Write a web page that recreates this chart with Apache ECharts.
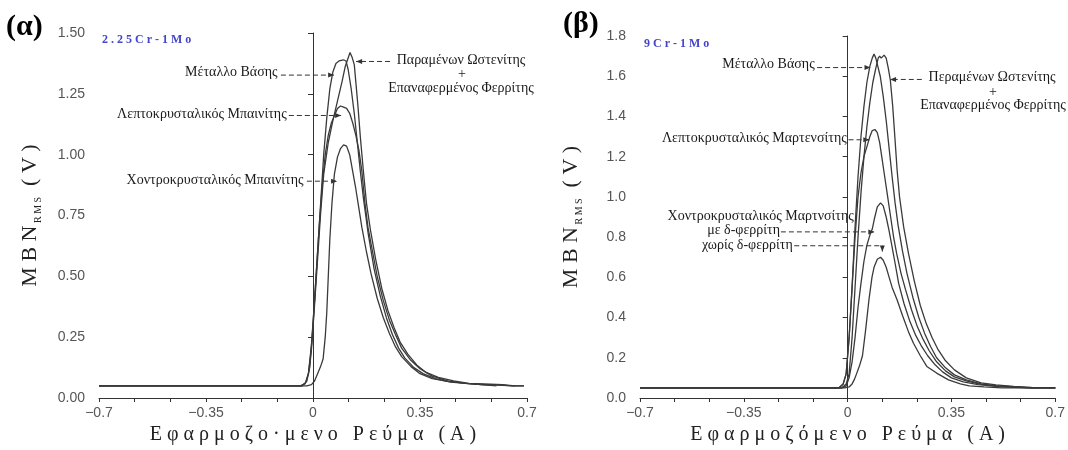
<!DOCTYPE html>
<html><head><meta charset="utf-8">
<script src="https://cdn.jsdelivr.net/npm/echarts/dist/echarts.min.js"></script>
<style>html,body{margin:0;padding:0;background:#fff}#c{width:1068px;height:450px}</style>
</head><body><div id="c"></div>
<script>
// ---------- DATA (x: applied current A, y: MBN_RMS V) ----------
const leftBaseMetal = [[-0.7,0.05],[-0.04,0.05],[-0.025,0.06],[-0.015,0.1],[-0.005,0.22],[0.005,0.4],[0.015,0.6],[0.025,0.8],[0.035,1.0],[0.045,1.15],[0.055,1.27],[0.065,1.34],[0.075,1.375],[0.085,1.385],[0.1,1.39],[0.108,1.385],[0.115,1.35],[0.125,1.27],[0.135,1.17],[0.145,1.05],[0.155,0.93],[0.165,0.82],[0.18,0.68],[0.2,0.53],[0.22,0.42],[0.24,0.33],[0.26,0.26],[0.28,0.205],[0.3,0.165],[0.33,0.125],[0.36,0.1],[0.4,0.08],[0.45,0.065],[0.5,0.06],[0.55,0.055],[0.6,0.055],[0.65,0.05],[0.69,0.05]];
const leftRetainedAustenite = [[-0.7,0.05],[-0.04,0.05],[-0.025,0.06],[-0.015,0.1],[-0.005,0.2],[0.005,0.38],[0.015,0.57],[0.025,0.76],[0.035,0.92],[0.05,1.05],[0.065,1.14],[0.08,1.22],[0.095,1.3],[0.105,1.36],[0.113,1.39],[0.121,1.42],[0.128,1.4],[0.135,1.37],[0.14,1.3],[0.147,1.2],[0.155,1.07],[0.165,0.93],[0.175,0.8],[0.188,0.69],[0.205,0.57],[0.225,0.45],[0.245,0.36],[0.265,0.29],[0.285,0.23],[0.31,0.18],[0.34,0.135],[0.37,0.105],[0.41,0.085],[0.46,0.07],[0.51,0.06],[0.56,0.058],[0.62,0.055],[0.66,0.05],[0.69,0.05]];
const leftFineBainite = [[-0.7,0.05],[-0.035,0.05],[-0.02,0.07],[-0.01,0.13],[0,0.3],[0.01,0.5],[0.02,0.7],[0.03,0.87],[0.04,1.0],[0.05,1.08],[0.06,1.13],[0.07,1.16],[0.08,1.19],[0.09,1.2],[0.1,1.195],[0.11,1.19],[0.12,1.17],[0.13,1.13],[0.14,1.08],[0.15,1.02],[0.16,0.93],[0.17,0.8],[0.18,0.7],[0.195,0.6],[0.21,0.5],[0.23,0.4],[0.25,0.32],[0.27,0.26],[0.29,0.205],[0.32,0.155],[0.35,0.12],[0.39,0.09],[0.44,0.07],[0.5,0.06],[0.56,0.055],[0.62,0.052],[0.66,0.05]];
const leftCoarseBainite = [[-0.7,0.05],[-0.02,0.05],[-0.005,0.055],[0.005,0.07],[0.015,0.1],[0.025,0.13],[0.033,0.16],[0.04,0.25],[0.045,0.35],[0.05,0.5],[0.055,0.65],[0.062,0.8],[0.07,0.92],[0.08,0.99],[0.09,1.025],[0.1,1.04],[0.11,1.035],[0.12,1.0],[0.13,0.93],[0.14,0.86],[0.15,0.78],[0.16,0.7],[0.175,0.6],[0.19,0.51],[0.21,0.41],[0.23,0.33],[0.25,0.265],[0.27,0.21],[0.29,0.17],[0.32,0.13],[0.35,0.1],[0.39,0.08],[0.44,0.068],[0.5,0.06],[0.55,0.055],[0.6,0.05]];

const rightBaseMetal = [[-0.7,0.05],[-0.03,0.05],[-0.015,0.07],[-0.005,0.12],[0.005,0.3],[0.015,0.55],[0.025,0.85],[0.035,1.1],[0.045,1.3],[0.055,1.45],[0.065,1.57],[0.075,1.65],[0.083,1.69],[0.089,1.71],[0.095,1.69],[0.1,1.66],[0.11,1.6],[0.12,1.5],[0.13,1.38],[0.14,1.24],[0.15,1.1],[0.16,0.97],[0.17,0.86],[0.185,0.73],[0.2,0.62],[0.22,0.5],[0.24,0.4],[0.26,0.32],[0.28,0.255],[0.3,0.2],[0.33,0.15],[0.36,0.115],[0.4,0.09],[0.45,0.07],[0.5,0.06],[0.56,0.055],[0.62,0.05],[0.7,0.05]];
const rightRetainedAustenite = [[-0.7,0.05],[-0.02,0.05],[-0.005,0.07],[0.005,0.12],[0.015,0.3],[0.025,0.55],[0.035,0.8],[0.045,1.02],[0.055,1.2],[0.065,1.35],[0.075,1.47],[0.085,1.57],[0.095,1.64],[0.103,1.69],[0.108,1.7],[0.113,1.69],[0.118,1.695],[0.123,1.705],[0.13,1.69],[0.137,1.64],[0.144,1.58],[0.152,1.45],[0.16,1.28],[0.167,1.13],[0.175,1.0],[0.189,0.85],[0.205,0.72],[0.225,0.58],[0.245,0.46],[0.265,0.37],[0.285,0.3],[0.305,0.24],[0.33,0.185],[0.36,0.14],[0.4,0.1],[0.45,0.075],[0.5,0.065],[0.56,0.058],[0.62,0.053],[0.7,0.05]];
const rightFineMartensite = [[-0.7,0.05],[-0.03,0.05],[-0.015,0.07],[-0.005,0.12],[0.005,0.3],[0.015,0.55],[0.025,0.8],[0.035,1.0],[0.045,1.12],[0.055,1.2],[0.065,1.25],[0.075,1.3],[0.083,1.33],[0.092,1.335],[0.1,1.32],[0.108,1.27],[0.115,1.2],[0.125,1.1],[0.135,1.0],[0.145,0.9],[0.155,0.8],[0.165,0.72],[0.18,0.62],[0.195,0.54],[0.215,0.44],[0.235,0.355],[0.255,0.29],[0.275,0.235],[0.3,0.18],[0.33,0.135],[0.36,0.105],[0.4,0.085],[0.45,0.068],[0.5,0.06],[0.56,0.055],[0.62,0.05],[0.7,0.05]];
const rightCoarseMartDelta = [[-0.7,0.05],[-0.02,0.05],[-0.005,0.06],[0.005,0.1],[0.015,0.18],[0.025,0.3],[0.035,0.45],[0.045,0.57],[0.055,0.68],[0.065,0.76],[0.075,0.81],[0.083,0.84],[0.09,0.89],[0.1,0.95],[0.111,0.97],[0.12,0.955],[0.13,0.9],[0.14,0.83],[0.15,0.75],[0.16,0.67],[0.172,0.57],[0.19,0.47],[0.21,0.38],[0.23,0.31],[0.25,0.255],[0.27,0.21],[0.295,0.165],[0.32,0.13],[0.35,0.1],[0.39,0.08],[0.44,0.066],[0.5,0.058],[0.56,0.053],[0.62,0.05],[0.7,0.05]];
const rightCoarseMart = [[-0.7,0.05],[-0.01,0.05],[0.005,0.055],[0.015,0.07],[0.022,0.09],[0.03,0.12],[0.04,0.16],[0.05,0.21],[0.06,0.33],[0.072,0.49],[0.082,0.6],[0.089,0.65],[0.1,0.69],[0.111,0.7],[0.12,0.685],[0.13,0.65],[0.14,0.6],[0.15,0.55],[0.167,0.487],[0.185,0.41],[0.205,0.33],[0.222,0.272],[0.245,0.21],[0.267,0.157],[0.3,0.124],[0.34,0.09],[0.38,0.07],[0.41,0.06],[0.46,0.055],[0.52,0.05],[0.7,0.05]];

const xRange = [-0.7, 0.7];
const xStep = 0.35;
const leftYRange = [0, 1.5], leftYStep = 0.25;
const rightYRange = [0, 1.8], rightYStep = 0.2;

// annotations (data coordinates)
const annotations = [
  {grid:0, lines:[{text:'Μέταλλο Βάσης', at:[-0.116,1.339], align:'right'}], path:[[-0.105,1.327],[0.069,1.327]]},
  {grid:0, lines:[{text:'Λεπτοκρυσταλικός Μπαινίτης', at:[-0.086,1.165], align:'right'}], path:[[-0.079,1.161],[0.092,1.161]]},
  {grid:0, lines:[{text:'Χοντροκρυσταλικός Μπαινίτης', at:[-0.031,0.895], align:'right'}], path:[[-0.020,0.891],[0.079,0.891]]},
  {grid:0, lines:[{text:'Παραμένων Ωστενίτης', at:[0.484,1.387], align:'center'},{text:'+', at:[0.487,1.331], align:'center'},{text:'Επαναφερμένος Φερρίτης', at:[0.484,1.274], align:'center'}], path:[[0.252,1.383],[0.141,1.383]]},
  {grid:1, lines:[{text:'Μέταλλο Βάσης', at:[-0.111,1.658], align:'right'}], path:[[-0.103,1.643],[0.077,1.643]]},
  {grid:1, lines:[{text:'Λεπτοκρυσταλικός Μαρτενσίτης', at:[-0.003,1.289], align:'right'}], path:[[0.003,1.284],[0.073,1.284]]},
  {grid:1, lines:[{text:'Περαμένων Ωστενίτης', at:[0.487,1.594], align:'center'},{text:'+', at:[0.49,1.52], align:'center'},{text:'Επαναφερμένος Φερρίτης', at:[0.49,1.456], align:'center'}], path:[[0.25,1.584],[0.143,1.584]]},
  {grid:1, lines:[{text:'Χοντροκρυσταλικός Μαρτνσίτης', at:[-0.293,0.905], align:'center'}], path:null},
  {grid:1, lines:[{text:'με δ-φερρίτη', at:[-0.228,0.836], align:'right'}], path:[[-0.225,0.826],[0.09,0.826]]},
  {grid:1, lines:[{text:'χωρίς δ-φερρίτη', at:[-0.185,0.757], align:'right'}], path:[[-0.18,0.757],[0.117,0.757],[0.117,0.728]]}
];

// ---------- CHART ----------
const SERIF = '"Liberation Serif", "DejaVu Serif", serif';
const SANS = '"Liberation Sans", Arial, sans-serif';
const chart = echarts.init(document.getElementById('c'), null, {renderer:'canvas'});

function xFmt(v){
  if (Math.abs(v) < 1e-9) return '0';
  let s = Math.abs(v).toFixed(2).replace(/0$/,'');
  return (v < 0 ? '\u2212' : '') + s;
}
function mkX(gi, name){
  return {
    type:'value', gridIndex:gi, min:xRange[0], max:xRange[1], interval:xStep,
    axisLine:{lineStyle:{color:'#333', width:1}},
    axisTick:{show:true, length:4, lineStyle:{color:'#333'}},
    minorTick:{show:true, splitNumber:3, length:4, lineStyle:{color:'#333'}},
    splitLine:{show:false}, minorSplitLine:{show:false},
    axisLabel:{formatter:xFmt, color:'#555', fontFamily:SANS, fontSize:14, margin:8},
    name:name, nameLocation:'middle', nameGap:27,
    nameTextStyle:{fontFamily:SERIF, fontSize:20, color:'#222'}
  };
}
function mkY(gi, rng, step, dec){
  return {
    type:'value', gridIndex:gi, min:rng[0], max:rng[1], interval:step,
    axisLine:{show:true, lineStyle:{color:'#333', width:1}},
    axisTick:{show:true, length:5, lineStyle:{color:'#333'}},
    splitLine:{show:false},
    axisLabel:{formatter:v=>v.toFixed(dec), color:'#555', fontFamily:SANS, fontSize:14, margin:14},
    name:'{a|M B N}{b| R M S}{a|  ( V )}', nameLocation:'middle', nameGap:56, nameRotate:90,
    nameTextStyle:{
      color:'#222',
      rich:{
        a:{fontFamily:SERIF, fontSize:22, color:'#222', lineHeight:26, verticalAlign:'middle'},
        b:{fontFamily:SERIF, fontSize:10, color:'#222', lineHeight:26, verticalAlign:'bottom'}
      }
    }
  };
}
function mkS(name, data, xi){
  return {name, type:'line', xAxisIndex:xi, yAxisIndex:xi, data, showSymbol:false, symbol:'none',
    smooth:false, lineStyle:{color:'#3a3a3a', width:1.3}, silent:true, animation:false};
}

chart.setOption({
  animation:false,
  backgroundColor:'#fff',
  grid:[
    {left:99, top:33, width:428, height:372},
    {left:640, top:36, width:420, height:366}
  ],
  xAxis:[mkX(0,'Ε φ α ρ μ ο ζ ο · μ ε ν ο   Ρ ε ύ μ α   ( Α )'), mkX(1,'Ε φ α ρ μ ο ζ ό μ ε ν ο   Ρ ε ύ μ α   ( Α )')],
  yAxis:[mkY(0,leftYRange,leftYStep,2), mkY(1,rightYRange,rightYStep,1)],
  series:[
    mkS('Μέταλλο Βάσης', leftBaseMetal, 0),
    mkS('Παραμένων Ωστενίτης + Επαναφερμένος Φερρίτης', leftRetainedAustenite, 0),
    mkS('Λεπτοκρυσταλικός Μπαινίτης', leftFineBainite, 0),
    mkS('Χοντροκρυσταλικός Μπαινίτης', leftCoarseBainite, 0),
    mkS('Μέταλλο Βάσης (9Cr)', rightBaseMetal, 1),
    mkS('Περαμένων Ωστενίτης + Επαναφερμένος Φερρίτης (9Cr)', rightRetainedAustenite, 1),
    mkS('Λεπτοκρυσταλικός Μαρτενσίτης', rightFineMartensite, 1),
    mkS('Χοντροκρυσταλικός Μαρτνσίτης με δ-φερρίτη', rightCoarseMartDelta, 1),
    mkS('Χοντροκρυσταλικός Μαρτνσίτης χωρίς δ-φερρίτη', rightCoarseMart, 1)
  ]
});

function buildGraphics(){
  const g = [];
  g.push({type:'text', x:6, y:12, silent:true, style:{text:'(α)', font:'bold 30px '+SERIF, fill:'#000', align:'left', verticalAlign:'top'}});
  g.push({type:'text', x:563, y:9, silent:true, style:{text:'(β)', font:'bold 30px '+SERIF, fill:'#000', align:'left', verticalAlign:'top'}});
  g.push({type:'text', x:102, y:40, silent:true, style:{text:'2 . 2 5 C r - 1 M o', font:'bold 12px '+SERIF, fill:'#4545cc', align:'left', verticalAlign:'middle'}});
  g.push({type:'text', x:644, y:44, silent:true, style:{text:'9 C r - 1 M o', font:'bold 12px '+SERIF, fill:'#4545cc', align:'left', verticalAlign:'middle'}});
  annotations.forEach(a=>{
    const P = p => chart.convertToPixel({gridIndex:a.grid}, p);
    a.lines.forEach(l=>{
      const tp = P(l.at);
      g.push({type:'text', x:tp[0], y:tp[1], silent:true, style:{text:l.text, font:'14px '+SERIF, fill:'#1a1a1a', align:l.align, verticalAlign:'middle'}});
    });
    if (a.path){
      const pts = a.path.map(P);
      for (let i=0;i<pts.length-1;i++){
        g.push({type:'line', silent:true, shape:{x1:pts[i][0], y1:pts[i][1], x2:pts[i+1][0], y2:pts[i+1][1]},
          style:{stroke:'#333', lineWidth:1, lineDash:i===pts.length-2 && pts.length>2 ? null : [5,3]}});
      }
      const t = pts[pts.length-1], s = pts[pts.length-2];
      const dx=t[0]-s[0], dy=t[1]-s[1], L=Math.hypot(dx,dy)||1, ux=dx/L, uy=dy/L;
      const bx=t[0]-ux*6, by=t[1]-uy*6;
      g.push({type:'polygon', silent:true, shape:{points:[[t[0],t[1]],[bx-uy*2.5,by+ux*2.5],[bx+uy*2.5,by-ux*2.5]]}, style:{fill:'#333'}});
    }
  });
  return g;
}
chart.setOption({graphic: buildGraphics()});
</script>
</body></html>
